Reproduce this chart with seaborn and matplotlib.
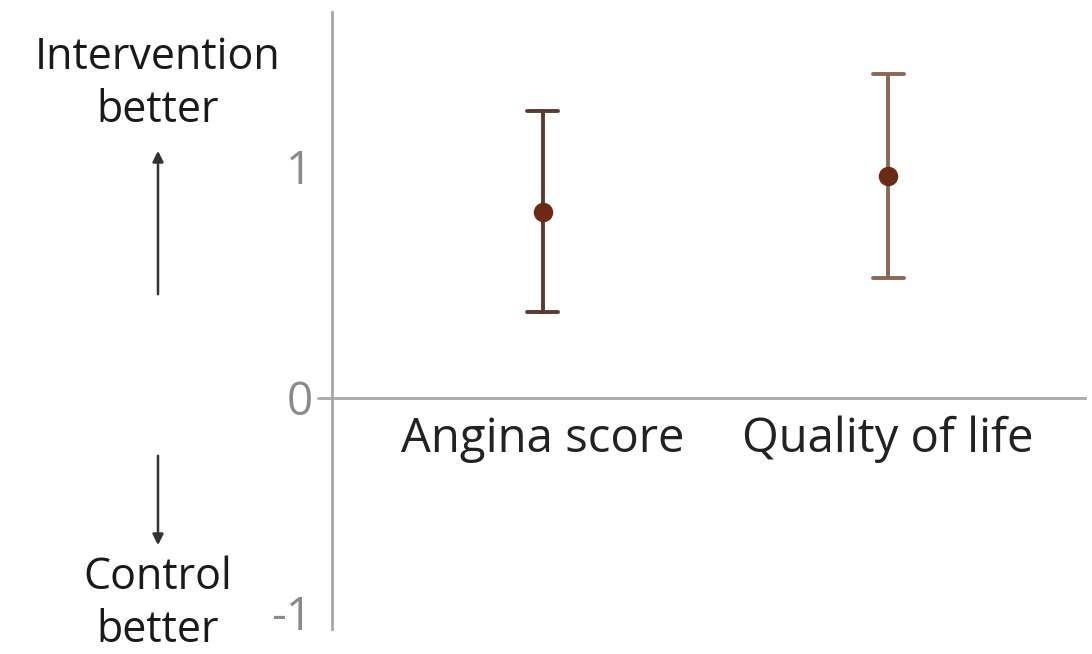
import numpy as np
import pandas as pd
import matplotlib
matplotlib.use('Agg')
import matplotlib.pyplot as plt
import matplotlib.transforms as mtransforms
import seaborn as sns

# Effect estimates with confidence limits
outcomes = ['Angina score', 'Quality of life']
estimate = [0.805, 0.96]
lower = [0.37, 0.52]
upper = [1.24, 1.40]
bar_colors = ['#5a3b31', '#8a6656']
y_ticks = [-1, 0, 1]
y_tick_labels = ['-1', '0', '1']

# long table: low / mid / high per outcome, median + 100% interval gives the bar
rows = []
for name, lo, mid, hi in zip(outcomes, lower, estimate, upper):
    for v in (lo, mid, hi):
        rows.append({'Outcome': name, 'Effect': v})
df = pd.DataFrame(rows)

sns.set_theme(style='white')
plt.rcParams['font.family'] = ['Open Sans', 'DejaVu Sans']

fig = plt.figure(figsize=(10.92, 6.54), dpi=100)
ax = fig.add_axes([332 / 1092, 1 - 629 / 654, (1085 - 332) / 1092, (629 - 12) / 654])

sns.pointplot(data=df, x='Outcome', y='Effect', order=outcomes,
              estimator='median', errorbar=('pi', 100), capsize=0.09,
              linestyle='none', color='#6b2a15', markersize=12,
              err_kws={'linewidth': 2.8}, ax=ax)

# recolour the intervals: each outcome gets its own brown, dots stay on top
for line in ax.lines:
    if line.get_marker() not in (None, '', 'None', ' '):
        line.set_zorder(4)
        continue
    xs = np.asarray(line.get_xdata(), dtype=float)
    idx = int(round(np.nanmean(xs)))
    line.set_color(bar_colors[idx])
    line.set_zorder(3)

ax.set_xlim(-0.611, 1.57)
ax.set_ylim(-1.0, 1.67)
ax.set_yticks(y_ticks)
ax.set_yticklabels(y_tick_labels)
ax.set_xlabel('')
ax.set_ylabel('')

for s in ['top', 'right']:
    ax.spines[s].set_visible(False)
ax.spines['left'].set_color('#a8a8a8')
ax.spines['left'].set_linewidth(2)
ax.spines['bottom'].set_position(('data', 0))
ax.spines['bottom'].set_color('#a8a8a8')
ax.spines['bottom'].set_linewidth(2)
# zero line pokes out a little left of the axis
ax.axhline(0, xmin=-0.019, xmax=0, color='#a8a8a8', lw=2, clip_on=False)

ax.tick_params(axis='y', length=0, pad=14, labelsize=33, labelcolor='#8a8a8a')
ax.tick_params(axis='x', length=0, pad=13, labelsize=34, labelcolor='#222222')

# lift the "-1" label so it sits inside the figure
lbl = ax.get_yticklabels()[0]
lbl.set_transform(lbl.get_transform() + mtransforms.ScaledTranslation(0, 0.16, fig.dpi_scale_trans))

# direction annotations on the left
fig.text(158 / 1092, 1 - 84 / 654, 'Intervention\nbetter', ha='center', va='center',
         fontsize=31, color='#1a1a1a', linespacing=1.25)
fig.text(158 / 1092, 1 - 604 / 654, 'Control\nbetter', ha='center', va='center',
         fontsize=31, color='#1a1a1a', linespacing=1.25)
ax.annotate('', xy=(158, 654 - 148), xytext=(158, 654 - 297), xycoords='figure pixels',
            arrowprops=dict(arrowstyle='-|>', color='#333333', lw=1.8, mutation_scale=16))
ax.annotate('', xy=(158, 654 - 548), xytext=(158, 654 - 453), xycoords='figure pixels',
            arrowprops=dict(arrowstyle='-|>', color='#333333', lw=1.8, mutation_scale=16))

fig.savefig('out.png', dpi=100)
